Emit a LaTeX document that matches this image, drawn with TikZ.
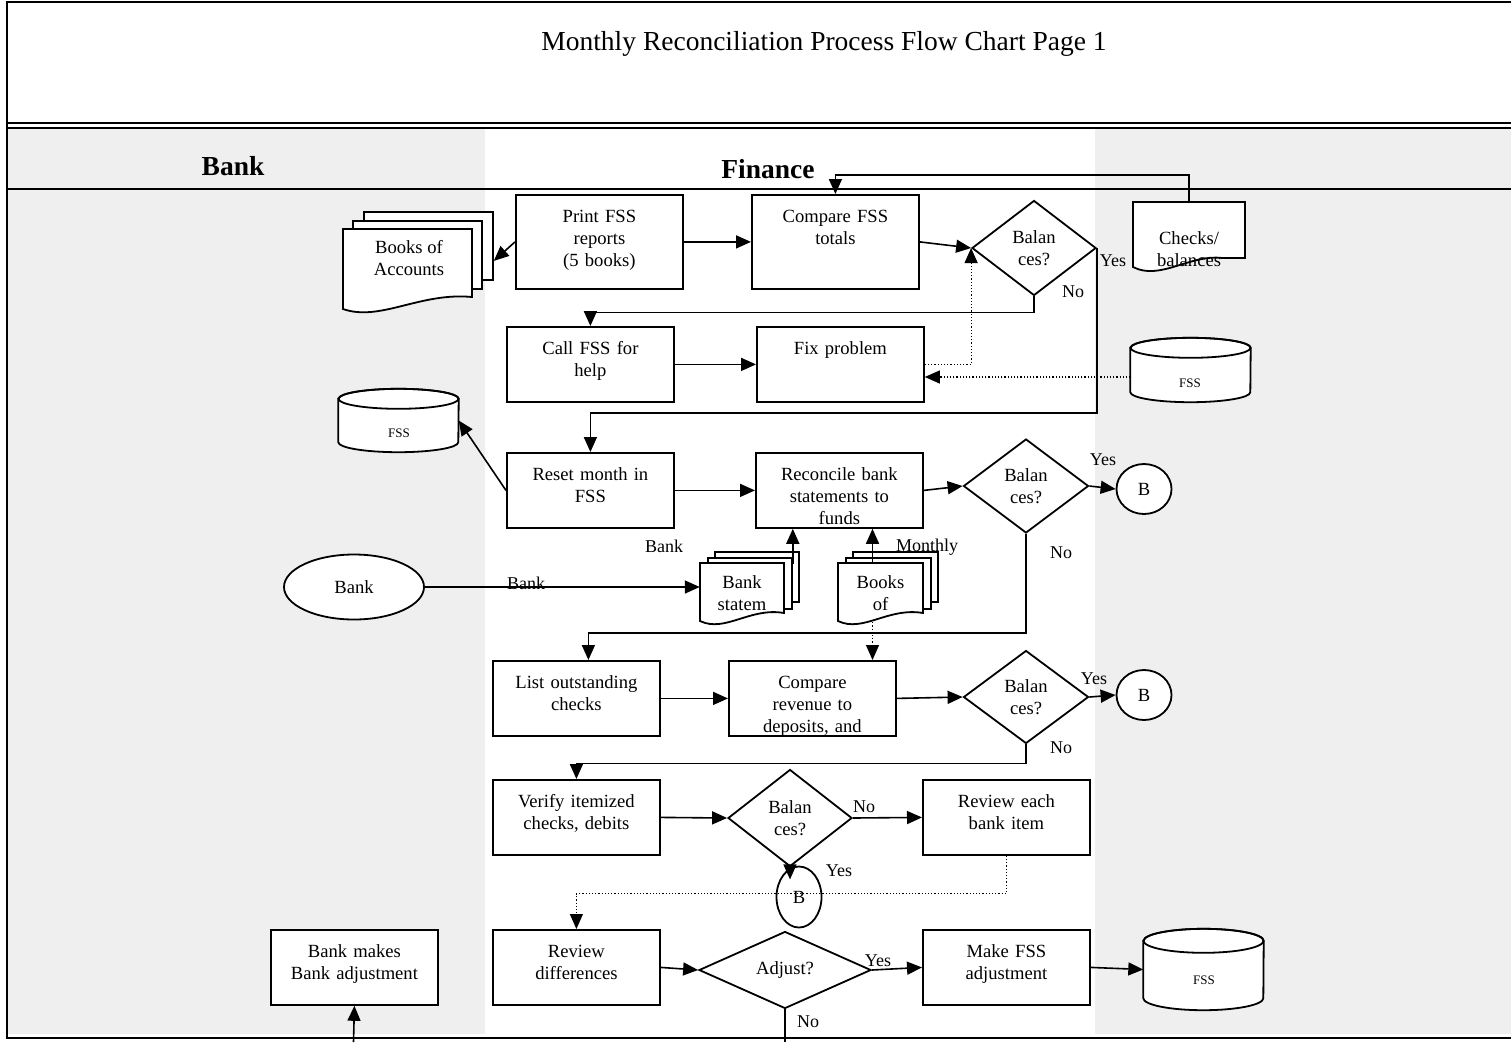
\documentclass[tikz,border=0pt]{standalone}
\usepackage{fontspec}
\setmainfont{Liberation Serif}
\usetikzlibrary{arrows.meta,shapes.geometric}
\definecolor{lanegray}{RGB}{239,239,239}

\begin{document}
\begin{tikzpicture}[x=1pt,y=-1pt]
\tikzset{every node/.style={font=\fontsize{18.6}{21.7}\selectfont}}
\tikzset{procbox/.style={draw,line width=1.8pt,fill=white,align=center,text width=163pt,inner xsep=2pt,inner ysep=0pt,text height=28pt,text depth=47pt,anchor=north west}}
\tikzset{decision/.style={diamond,draw,line width=1.8pt,fill=white,align=center,inner sep=0pt}}
\tikzset{joint/.style={ellipse,draw,line width=1.8pt,fill=white,inner sep=0pt}}
\tikzset{docpage/.style={draw,line width=1.8pt,fill=white,inner sep=0pt,anchor=north west}}
\tikzset{docline/.style={draw,line width=1.8pt,fill=white}}
\tikzset{doctext/.style={align=center,inner sep=0pt}}
\tikzset{dbtext/.style={font=\fontsize{13}{15}\selectfont,inner sep=0pt}}
\tikzset{lbl/.style={font=\fontsize{18}{20}\selectfont,inner sep=0pt}}
\tikzset{heading/.style={font=\fontsize{27.5}{30}\selectfont,anchor=base}}
\tikzset{flowarr/.style={line width=1.6pt,-{Triangle[length=15pt,width=13pt]}}}
\tikzset{dotarr/.style={flowarr,line width=1.2pt,dotted}}

\useasboundingbox (0,0) rectangle (1511,1042);
\fill[white] (0,0) rectangle (1511,1042);
\fill[lanegray] (7,127) rectangle (485,1034);
\fill[lanegray] (1095,127) rectangle (1511,1034);
\draw[line width=2pt] (1511,2) -- (7,2) -- (7,1038) -- (1511,1038);
\draw[line width=2pt] (7,123) -- (1511,123);
\draw[line width=1.2pt] (7,128) -- (1511,128);
\draw[line width=1.5pt] (7,189) -- (1511,189);

\node[heading] (title) at (824,50) {Monthly Reconciliation Process Flow Chart Page 1};
\node[heading,font=\fontsize{27.5}{30}\selectfont\bfseries] (banklane) at (233,175) {Bank};
\node[heading,font=\fontsize{27.5}{30}\selectfont\bfseries] (finlane) at (768,178) {Finance};
\node[lbl] (monthly) at (927,547) {Monthly};
\node[lbl] (banklbl) at (664,546) {Bank};

\node[docpage,minimum width=129pt,minimum height=68pt] (booksacc3) at (363,211) {};
\node[docpage,minimum width=129pt,minimum height=68pt] (booksacc2) at (352,220) {};
\draw[docline] (343,229) -- (343,309) .. controls (380,322) and (420,292) .. (472,297) -- (472,229) -- cycle;
\node[doctext,minimum width=129pt] (booksacc) at (409,258) {Books of\\Accounts};

\draw[docline] (1133,202) -- (1133,267) .. controls (1160,281) and (1190,254) .. (1222,258) -- (1245,258) -- (1245,202) -- cycle;
\node[doctext,minimum height=94pt] (checks) at (1189,249) {Checks/\\balances};

\node[docpage,minimum width=84pt,minimum height=50pt] (bankst3) at (714,551) {};
\node[docpage,minimum width=84pt,minimum height=51pt] (bankst2) at (707,557) {};
\draw[docline] (700,563) -- (700,621) .. controls (725,633) and (750,607) .. (784,613) -- (784,563) -- cycle;
\node[doctext,minimum width=84pt,minimum height=58pt] (bankst) at (742,593) {Bank\\statem};

\node[docpage,minimum width=85pt,minimum height=50pt] (booksmo3) at (852,551) {};
\node[docpage,minimum width=85pt,minimum height=51pt] (booksmo2) at (845,557) {};
\draw[docline] (838,563) -- (838,621) .. controls (863,633) and (888,607) .. (923,613) -- (923,563) -- cycle;
\node[doctext,minimum width=85pt,minimum height=58pt] (booksmo) at (880.5,593) {Books\\of};

\node[minimum width=120pt,minimum height=63pt,inner sep=0pt] (fssA) at (398.5,420.5) {};
\node[minimum width=120pt,minimum height=64pt,inner sep=0pt] (fssB) at (1190.5,370) {};
\node[minimum width=120pt,minimum height=81pt,inner sep=0pt] (fssC) at (1203.5,969.5) {};
\foreach \c/\ry in {fssA/10pt,fssB/10pt,fssC/12pt} {
  \draw[docline] ([yshift=-\ry]\c.north west) -- ([yshift=\ry]\c.south west) arc[start angle=180,end angle=360,x radius=60pt,y radius=\ry] -- ([yshift=-\ry]\c.north east) arc[start angle=0,end angle=180,x radius=60pt,y radius=\ry] -- cycle;
  \draw[line width=1.8pt] ([yshift=-\ry]\c.north) ellipse[x radius=60pt,y radius=\ry];
}
\node[dbtext] (fssAtext) at (399,433) {FSS};
\node[dbtext] (fssBtext) at (1190,383) {FSS};
\node[dbtext] (fssCtext) at (1204,980) {FSS};

\node[procbox,text depth=66pt] (print) at (515,194) {Print FSS\\reports\\(5 books)};
\node[procbox,text depth=66pt] (compare) at (751,194) {Compare FSS\\totals};
\node[decision,minimum width=124pt,minimum height=95pt] (d1) at (1034,248) {Balan\\ces?};
\node[procbox] (call) at (506,326) {Call FSS for\\help};
\node[procbox] (fix) at (756,326) {Fix problem};
\node[procbox] (reset) at (506,452) {Reset month in\\FSS};
\node[procbox] (rec) at (755,452) {Reconcile bank\\statements to\\funds};
\node[decision,minimum width=125pt,minimum height=94pt] (d2) at (1026,486) {Balan\\ces?};
\node[joint,minimum width=55pt,minimum height=50pt] (b1) at (1144,489) {B};
\node[joint,minimum width=140pt,minimum height=65pt] (bank) at (354,587) {Bank};
\node[procbox] (list) at (492,660) {List outstanding\\checks};
\node[procbox] (comprev) at (728,660) {Compare\\revenue to\\deposits, and};
\node[decision,minimum width=125pt,minimum height=93pt] (d3) at (1026,697) {Balan\\ces?};
\node[joint,minimum width=55pt,minimum height=50pt] (b2) at (1144,695) {B};
\node[procbox] (verify) at (492,779) {Verify itemized\\checks, debits};
\node[decision,minimum width=124pt,minimum height=97pt] (d4) at (790,818) {Balan\\ces?};
\node[procbox] (reveach) at (922,779) {Review each\\bank item};
\node[joint,minimum width=45pt,minimum height=61pt] (b3) at (799,897) {B};
\node[procbox] (revdiff) at (492,929) {Review\\differences};
\node[decision,minimum width=172pt,minimum height=77pt] (d5) at (785,970) {Adjust?};
\node[procbox] (make) at (922,929) {Make FSS\\adjustment};
\node[procbox] (bankmk) at (270,929) {Bank makes\\Bank adjustment};
\coordinate (adjno) at (785,1042);
\coordinate (bankin) at (353.5,1042);

\draw[flowarr] (print.west) -- ([yshift=-15pt]booksacc3.east);
\draw[flowarr] (print.east) -- (compare.west);
\draw[flowarr] (compare.east) -- (d1.west);
\draw[flowarr] (checks.north) -- ++(0,-27) -| (compare.north);
\draw[flowarr] (d1.south) -- ++(0,16) -| (call.north);
\draw[flowarr] (call.east) -- (fix.west);
\draw[dotarr] (fix.east) -| (d1.west);
\draw[dotarr] ([yshift=-7pt]fssB.west) -- ([yshift=-7pt]fssB.west -| fix.east);
\draw[flowarr] (d1.east) -- ++(0,165) -| (reset.north);
\draw[flowarr] (reset.west) -- (fssA.east);
\draw[flowarr] (reset.east) -- (rec.west);
\draw[flowarr] (rec.east) -- (d2.west);
\draw[flowarr] (d2.east) -- (b1.west);
\draw[flowarr] (d2.south) -- ++(0,99) -| ([xshift=12pt]list.north);
\draw[flowarr] (bank.east) -- (bank.east -| bankst.west);
\draw[flowarr] (bankst.north -| bankst2.east) -- (bankst2.east |- rec.south);
\draw[flowarr] ([xshift=-8pt]booksmo.north) -- ([xshift=-8pt]booksmo.north |- rec.south);
\draw[dotarr] ([xshift=-8pt]booksmo.south) -- ([xshift=-8pt]booksmo.south |- comprev.north);
\draw[flowarr] (list.east) -- (comprev.west);
\draw[flowarr] (comprev.east) -- (d3.west);
\draw[flowarr] (d3.east) -- (b2.west);
\draw[flowarr] (d3.south) -- ++(0,19) -| (verify.north);
\draw[flowarr] (verify.east) -- (d4.west);
\draw[flowarr] (d4.east) -- (reveach.west);
\draw[flowarr] (d4.south) -- ++(0,12);
\draw[dotarr] (reveach.south) -- ++(0,38) -| (revdiff.north);
\draw[flowarr] (revdiff.east) -- (d5.west);
\draw[flowarr] (d5.east) -- (make.west);
\draw[flowarr] (make.east) -- (fssC.west);
\draw[line width=1.6pt] (d5.south) -- (adjno);
\draw[flowarr] (bankin) -- (bankmk.south);

\node[lbl] (yes1) at (1113,261) {Yes};
\node[lbl] (no1) at (1073,292) {No};
\node[lbl] (yes2) at (1103,460) {Yes};
\node[lbl] (no2) at (1061,553) {No};
\node[lbl] (yes3) at (1094,679) {Yes};
\node[lbl] (no3) at (1061,748) {No};
\node[lbl] (no4) at (864,807) {No};
\node[lbl] (yes4) at (839,871) {Yes};
\node[lbl] (yes5) at (878,961) {Yes};
\node[lbl] (no5) at (808,1022) {No};
\node[lbl] (bankflow) at (526,583) {Bank};

\end{tikzpicture}
\end{document}
